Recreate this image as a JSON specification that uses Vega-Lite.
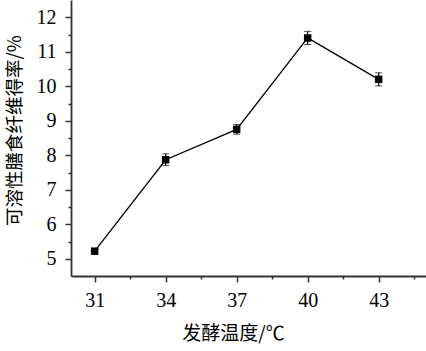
{
  "$schema": "https://vega.github.io/schema/vega-lite/v6.json",
  "width": 355,
  "height": 276,
  "autosize": {"type": "none"},
  "padding": {"left": 71, "top": 0, "right": 0, "bottom": 75},
  "background": "white",
  "config": {"view": {"stroke": null}, "font": "Liberation Serif"},
  "data": {"values": [
    {"temp": 31, "rate": 5.22, "err": 0.06},
    {"temp": 34, "rate": 7.87, "err": 0.17},
    {"temp": 37, "rate": 8.75, "err": 0.14},
    {"temp": 40, "rate": 11.4, "err": 0.19},
    {"temp": 43, "rate": 10.2, "err": 0.19}
  ]},
  "encoding": {
    "x": {"field": "temp", "type": "quantitative",
      "scale": {"domain": [30, 45], "nice": false, "zero": false},
      "axis": {
        "title": "发酵温度/℃",
        "titleFont": "Noto Sans CJK SC", "titleFontSize": 19, "titleFontWeight": "normal", "titleColor": "black",
        "titlePadding": 14, "titleX": 162,
        "labelFont": "Liberation Serif", "labelFontSize": 20, "labelColor": "black", "labelPadding": 8,
        "values": [31, 32.5, 34, 35.5, 37, 38.5, 40, 41.5, 43, 44.5],
        "labelExpr": "(datum.value - 31) % 3 === 0 ? format(datum.value, 'd') : ''",
        "tickSize": {"condition": {"test": "(datum.value - 31) % 3 === 0", "value": 6}, "value": 3},
        "tickColor": "#333", "tickWidth": 1.5, "domainColor": "#333", "domainWidth": 1.8,
        "grid": false
      }
    },
    "y": {"field": "rate", "type": "quantitative",
      "scale": {"domain": [4.5, 12.5], "nice": false, "zero": false},
      "axis": {
        "title": "可溶性膳食纤维得率/%",
        "titleFont": "Noto Sans CJK SC", "titleFontSize": 18.5, "titleFontWeight": "normal", "titleColor": "black",
        "titleX": -57, "titleY": 130, "titleBaseline": "middle", "titleAngle": -90,
        "labelFont": "Liberation Serif", "labelFontSize": 20, "labelColor": "black", "labelPadding": 9,
        "values": [5, 5.5, 6, 6.5, 7, 7.5, 8, 8.5, 9, 9.5, 10, 10.5, 11, 11.5, 12],
        "labelExpr": "datum.value % 1 === 0 ? format(datum.value, 'd') : ''",
        "tickSize": {"condition": {"test": "datum.value % 1 === 0", "value": 6}, "value": 3},
        "tickColor": "#333", "tickWidth": 1.5, "domainColor": "#333", "domainWidth": 1.8,
        "grid": false
      }
    }
  },
  "layer": [
    {"mark": {"type": "line", "color": "black", "strokeWidth": 1.3}},
    {"mark": {"type": "errorbar", "color": "black", "ticks": {"size": 7, "color": "black"}, "rule": {"color": "black", "strokeWidth": 1.2}},
     "encoding": {"yError": {"field": "err"}}},
    {"mark": {"type": "point", "shape": "square", "filled": true, "size": 56, "color": "black", "opacity": 1}}
  ]
}
